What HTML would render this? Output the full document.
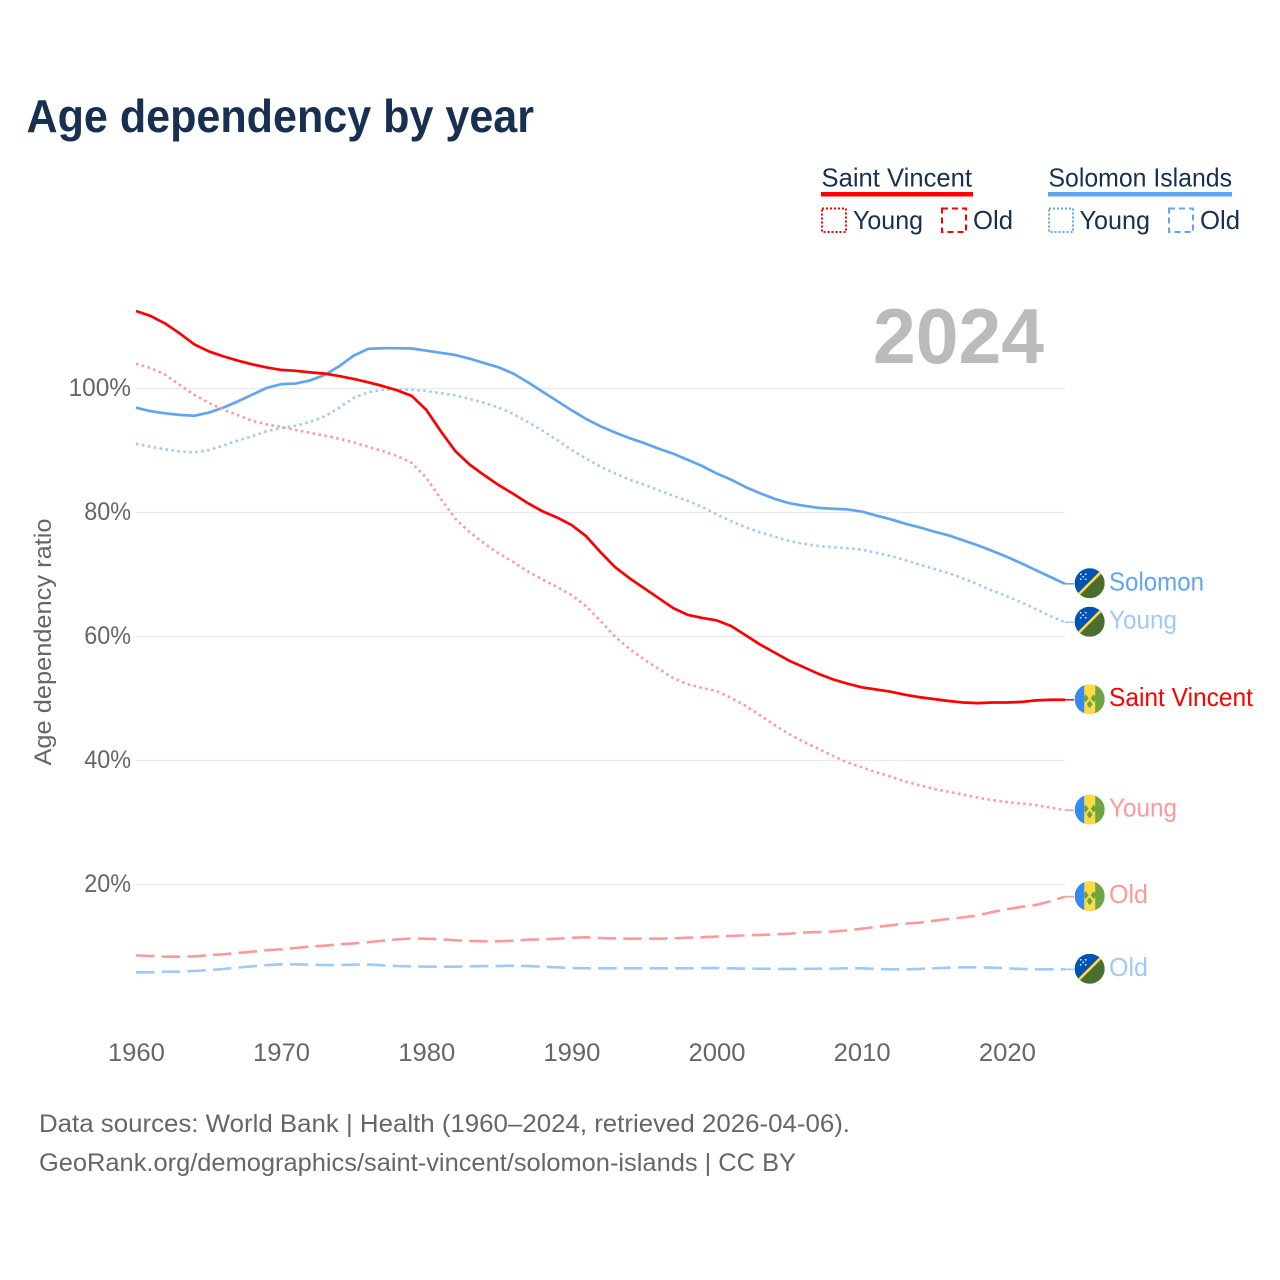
<!DOCTYPE html>
<html lang="en">
<head>
<meta charset="utf-8">
<title>Age dependency by year</title>
<style>
html,body{margin:0;padding:0;background:#fff;}
svg{display:block;font-family:"Liberation Sans",sans-serif;}
</style>
</head>
<body>
<svg id="chart" xmlns="http://www.w3.org/2000/svg" width="1280" height="1280" viewBox="0 0 1280 1280">
  <defs>
    <clipPath id="flag-clip"><circle cx="0" cy="0" r="15"/></clipPath>
    <g id="flag-solomon">
      <g clip-path="url(#flag-clip)">
        <rect x="-15" y="-15" width="30" height="30" fill="#496e2d"/>
        <polygon points="-15,-15 15,-15 -15,15" fill="#0052b4"/>
        <line x1="-15" y1="15" x2="15" y2="-15" stroke="#ffda44" stroke-width="2.6"/>
        <g fill="#e8eefa">
          <circle cx="-9" cy="-4" r="0.9"/><circle cx="-4" cy="-4" r="0.9"/><circle cx="-9" cy="-9" r="0.9"/><circle cx="-4" cy="-9" r="0.9"/><circle cx="-6.5" cy="-6.5" r="0.9"/>
        </g>
      </g>
    </g>
    <g id="flag-svg">
      <g clip-path="url(#flag-clip)">
        <rect x="-15" y="-15" width="30" height="30" fill="#ffda44"/>
        <rect x="-15" y="-15" width="9.5" height="30" fill="#338af3"/>
        <rect x="5.5" y="-15" width="9.5" height="30" fill="#6da544"/>
        <g fill="#6da544">
          <polygon points="-4,-5 -1,-1 -4,3 -7,-1"/>
          <polygon points="4,-5 7,-1 4,3 1,-1"/>
          <polygon points="0,1 3,5 0,9 -3,5"/>
        </g>
      </g>
    </g>
  </defs>

  <rect x="0" y="0" width="1280" height="1280" fill="#fff"/>

  <text x="26.5" y="132" font-size="46" font-weight="700" fill="#18304f" textLength="507.5" lengthAdjust="spacingAndGlyphs">Age dependency by year</text>

  <g>
    <g>
      <text x="821.5" y="186.5" font-size="26" fill="#18304f" textLength="150.5" lengthAdjust="spacingAndGlyphs">Saint Vincent</text>
      <rect x="821" y="192" width="152" height="4.5" fill="#ff0000"/>
      <rect x="822" y="208.5" width="24" height="23.5" fill="none" stroke="#ff0000" stroke-width="2" stroke-dasharray="2 2"/>
      <text x="853" y="229" font-size="26" fill="#18304f" textLength="70" lengthAdjust="spacingAndGlyphs">Young</text>
      <rect x="942" y="208.5" width="24" height="23.5" fill="none" stroke="#ff0000" stroke-width="2" stroke-dasharray="6 4"/>
      <text x="973" y="229" font-size="26" fill="#18304f" textLength="40" lengthAdjust="spacingAndGlyphs">Old</text>
    </g>
    <g>
      <text x="1048.5" y="186.5" font-size="26" fill="#18304f" textLength="183.5" lengthAdjust="spacingAndGlyphs">Solomon Islands</text>
      <rect x="1048" y="192" width="184" height="4.5" fill="#60a5f0"/>
      <rect x="1049" y="208.5" width="24" height="23.5" fill="none" stroke="#60a5f0" stroke-width="2" stroke-dasharray="2 2"/>
      <text x="1079.5" y="229" font-size="26" fill="#18304f" textLength="70.5" lengthAdjust="spacingAndGlyphs">Young</text>
      <rect x="1169" y="208.5" width="24" height="23.5" fill="none" stroke="#60a5f0" stroke-width="2" stroke-dasharray="6 4"/>
      <text x="1200" y="229" font-size="26" fill="#18304f" textLength="40" lengthAdjust="spacingAndGlyphs">Old</text>
    </g>
  </g>

  <g id="grid"></g>
  <g id="yticks"></g>
  <g id="xticks"></g>

  <text transform="translate(51,642) rotate(-90)" text-anchor="middle" font-size="24.5" fill="#666" textLength="247" lengthAdjust="spacingAndGlyphs">Age dependency ratio</text>

  <text x="873" y="363" font-size="78" font-weight="700" fill="#bbbbbb" textLength="171" lengthAdjust="spacingAndGlyphs">2024</text>

  <g id="series"></g>
  <g id="ends"></g>

  <g>
    <text x="39" y="1132" font-size="25" fill="#666" textLength="811" lengthAdjust="spacingAndGlyphs">Data sources: World Bank | Health (1960–2024, retrieved 2026-04-06).</text>
    <text x="39" y="1171" font-size="25" fill="#666" textLength="757" lengthAdjust="spacingAndGlyphs">GeoRank.org/demographics/saint-vincent/solomon-islands | CC BY</text>
  </g>
</svg>
<script>
const firstYear = 1960;
const lastYear = 2024;
const yTickValues = [20, 40, 60, 80, 100];
const xTickYears = [1960, 1970, 1980, 1990, 2000, 2010, 2020];

const saintVincentTotal = [112.5,111.7,110.5,108.9,107.15,106,105.2,104.5,103.9,103.4,103,102.85,102.6,102.4,102,101.55,101,100.4,99.7,98.8,96.55,93.1,89.9,87.7,86,84.4,83,81.5,80.2,79.2,78,76.2,73.6,71.2,69.4,67.8,66.2,64.6,63.5,63,62.6,61.7,60.2,58.7,57.4,56.1,55.05,54,53.1,52.4,51.8,51.45,51.1,50.6,50.2,49.9,49.6,49.35,49.25,49.35,49.35,49.45,49.7,49.8,49.8];
const saintVincentYoung = [104,103.3,102.25,100.6,99,97.7,96.6,95.7,94.8,94.2,93.8,93.3,92.85,92.4,91.9,91.3,90.6,89.9,89.1,88,85.6,82.2,79,76.8,75,73.4,72,70.5,69.2,68,66.7,64.9,62.5,60,58,56.3,54.8,53.3,52.3,51.7,51.2,50.1,48.8,47.3,45.7,44.25,43,41.9,40.75,39.7,38.9,38.1,37.4,36.6,36,35.4,34.95,34.5,34,33.6,33.3,33.05,32.8,32.4,32];
const saintVincentOld = [8.57,8.47,8.36,8.36,8.4,8.6,8.74,8.95,9.17,9.4,9.54,9.76,10,10.13,10.35,10.5,10.7,10.94,11.15,11.3,11.26,11.16,11,10.9,10.83,10.83,10.94,11.1,11.16,11.26,11.42,11.48,11.37,11.3,11.26,11.26,11.26,11.32,11.42,11.48,11.6,11.7,11.8,11.86,11.97,12.07,12.24,12.34,12.4,12.6,12.88,13.15,13.42,13.69,13.85,14.17,14.44,14.7,15.03,15.57,16,16.4,16.7,17.3,18.04];

const solomonTotal = [96.9,96.35,96,95.75,95.6,96.1,96.9,97.9,99,100.1,100.7,100.8,101.3,102.2,103.6,105.3,106.4,106.5,106.5,106.45,106.1,105.75,105.4,104.8,104.1,103.4,102.4,101,99.5,98,96.5,95.1,93.9,92.9,92,91.2,90.3,89.5,88.5,87.5,86.3,85.3,84.1,83.1,82.2,81.5,81.1,80.75,80.6,80.5,80.15,79.5,78.9,78.2,77.6,76.9,76.3,75.5,74.7,73.8,72.85,71.8,70.7,69.6,68.5];
const solomonYoung = [91.1,90.6,90.2,89.85,89.7,90.05,90.8,91.6,92.3,93.1,93.65,94,94.6,95.5,96.9,98.5,99.4,99.8,99.85,99.8,99.6,99.25,98.9,98.3,97.7,96.9,95.9,94.6,93.2,91.7,90.1,88.7,87.4,86.3,85.3,84.5,83.6,82.7,81.9,80.9,79.7,78.6,77.6,76.8,76.1,75.4,74.95,74.6,74.4,74.25,74,73.5,73,72.3,71.6,70.9,70.2,69.35,68.4,67.4,66.5,65.5,64.4,63.3,62.3];
const solomonOld = [5.83,5.83,5.94,5.94,6.05,6.2,6.37,6.6,6.8,7,7.12,7.12,7.07,7,7,7.07,7.1,6.96,6.85,6.8,6.75,6.75,6.75,6.8,6.85,6.85,6.9,6.85,6.75,6.64,6.53,6.48,6.48,6.48,6.48,6.48,6.48,6.48,6.48,6.5,6.53,6.48,6.42,6.43,6.38,6.38,6.38,6.43,6.43,6.48,6.48,6.38,6.32,6.32,6.38,6.48,6.59,6.65,6.65,6.59,6.48,6.38,6.32,6.32,6.32];

const SVGNS = 'http://www.w3.org/2000/svg';
const plotLeft = 136, plotRight = 1065, y100 = 388.5, pxPerPercent = 6.2;
const RED = '#ff0000', RED_SOFT = '#ff9999', BLUE = '#60a5f0', BLUE_SOFT = '#9fc9f6';
const DOT = '2.5 3.5', DASH = '18.5 7.2';

function xScale(year) {
  return plotLeft + (year - firstYear) * (plotRight - plotLeft) / (lastYear - firstYear);
}
function yScale(value) {
  return y100 + (100 - value) * pxPerPercent;
}
function make(tag, attrs, parent) {
  const el = document.createElementNS(SVGNS, tag);
  for (const k in attrs) el.setAttribute(k, attrs[k]);
  parent.appendChild(el);
  return el;
}

const gridGroup = document.getElementById('grid');
const yTickGroup = document.getElementById('yticks');
yTickValues.forEach(function (v) {
  const line = make('line', {x1: plotLeft, x2: plotRight, y1: yScale(v), y2: yScale(v), stroke: '#e9e9e9', 'stroke-width': 1.3}, gridGroup);
  
  
  const label = String(v) + '%';
  const t = make('text', {x: 131, y: yScale(v) + 7.5, 'text-anchor': 'end', 'font-size': 25, fill: '#666', textLength: label.length * 15.6, lengthAdjust: 'spacingAndGlyphs'}, yTickGroup);
  t.textContent = label;
  
  
});

const xTickGroup = document.getElementById('xticks');
xTickYears.forEach(function (yr) {
  const t = make('text', {x: xScale(yr) + 0.4, y: 1061, 'text-anchor': 'middle', 'font-size': 25, fill: '#666', textLength: 57, lengthAdjust: 'spacingAndGlyphs'}, xTickGroup);
  t.textContent = String(yr);
  
  
});

const seriesGroup = document.getElementById('series');
const endGroup = document.getElementById('ends');

function drawSeries(values, color, dash, width) {
  const pts = values.map(function (v, i) {
    return xScale(firstYear + i).toFixed(2) + ',' + yScale(v).toFixed(2);
  });
  const p = make('polyline', {points: pts.join(' '), fill: 'none', stroke: color, 'stroke-width': width, 'stroke-linejoin': 'round'}, seriesGroup);
  if (dash) p.setAttribute('stroke-dasharray', dash);
  return p;
}
function drawEnd(values, color, label, flagId, textLen) {
  const y = yScale(values[values.length - 1]);
  const c = make('line', {x1: plotRight, x2: 1074, y1: y, y2: y, stroke: color, 'stroke-width': 1.5}, endGroup);
  
  
  const f = make('use', {href: '#' + flagId, transform: 'translate(1089.7,' + (y - 0.5).toFixed(2) + ')'}, endGroup);
  
  
  const t = make('text', {x: 1109, y: y + 6.5, 'font-size': 26, fill: color, textLength: textLen, lengthAdjust: 'spacingAndGlyphs'}, endGroup);
  t.textContent = label;
  
  
}

const line1 = drawSeries(solomonOld, BLUE_SOFT, DASH, 2.6);


const line2 = drawSeries(solomonYoung, BLUE_SOFT, DOT, 2.6);


const line3 = drawSeries(solomonTotal, BLUE, null, 2.7);


const line4 = drawSeries(saintVincentOld, RED_SOFT, DASH, 2.6);


const line5 = drawSeries(saintVincentYoung, RED_SOFT, DOT, 2.6);


const line6 = drawSeries(saintVincentTotal, RED, null, 2.7);



drawEnd(solomonTotal, BLUE, 'Solomon', 'flag-solomon', 95);
drawEnd(solomonYoung, BLUE_SOFT, 'Young', 'flag-solomon', 68);
drawEnd(saintVincentTotal, RED, 'Saint Vincent', 'flag-svg', 144);
drawEnd(saintVincentYoung, RED_SOFT, 'Young', 'flag-svg', 68);
drawEnd(saintVincentOld, RED_SOFT, 'Old', 'flag-svg', 39);
drawEnd(solomonOld, BLUE_SOFT, 'Old', 'flag-solomon', 39);
</script>
</body>
</html>
